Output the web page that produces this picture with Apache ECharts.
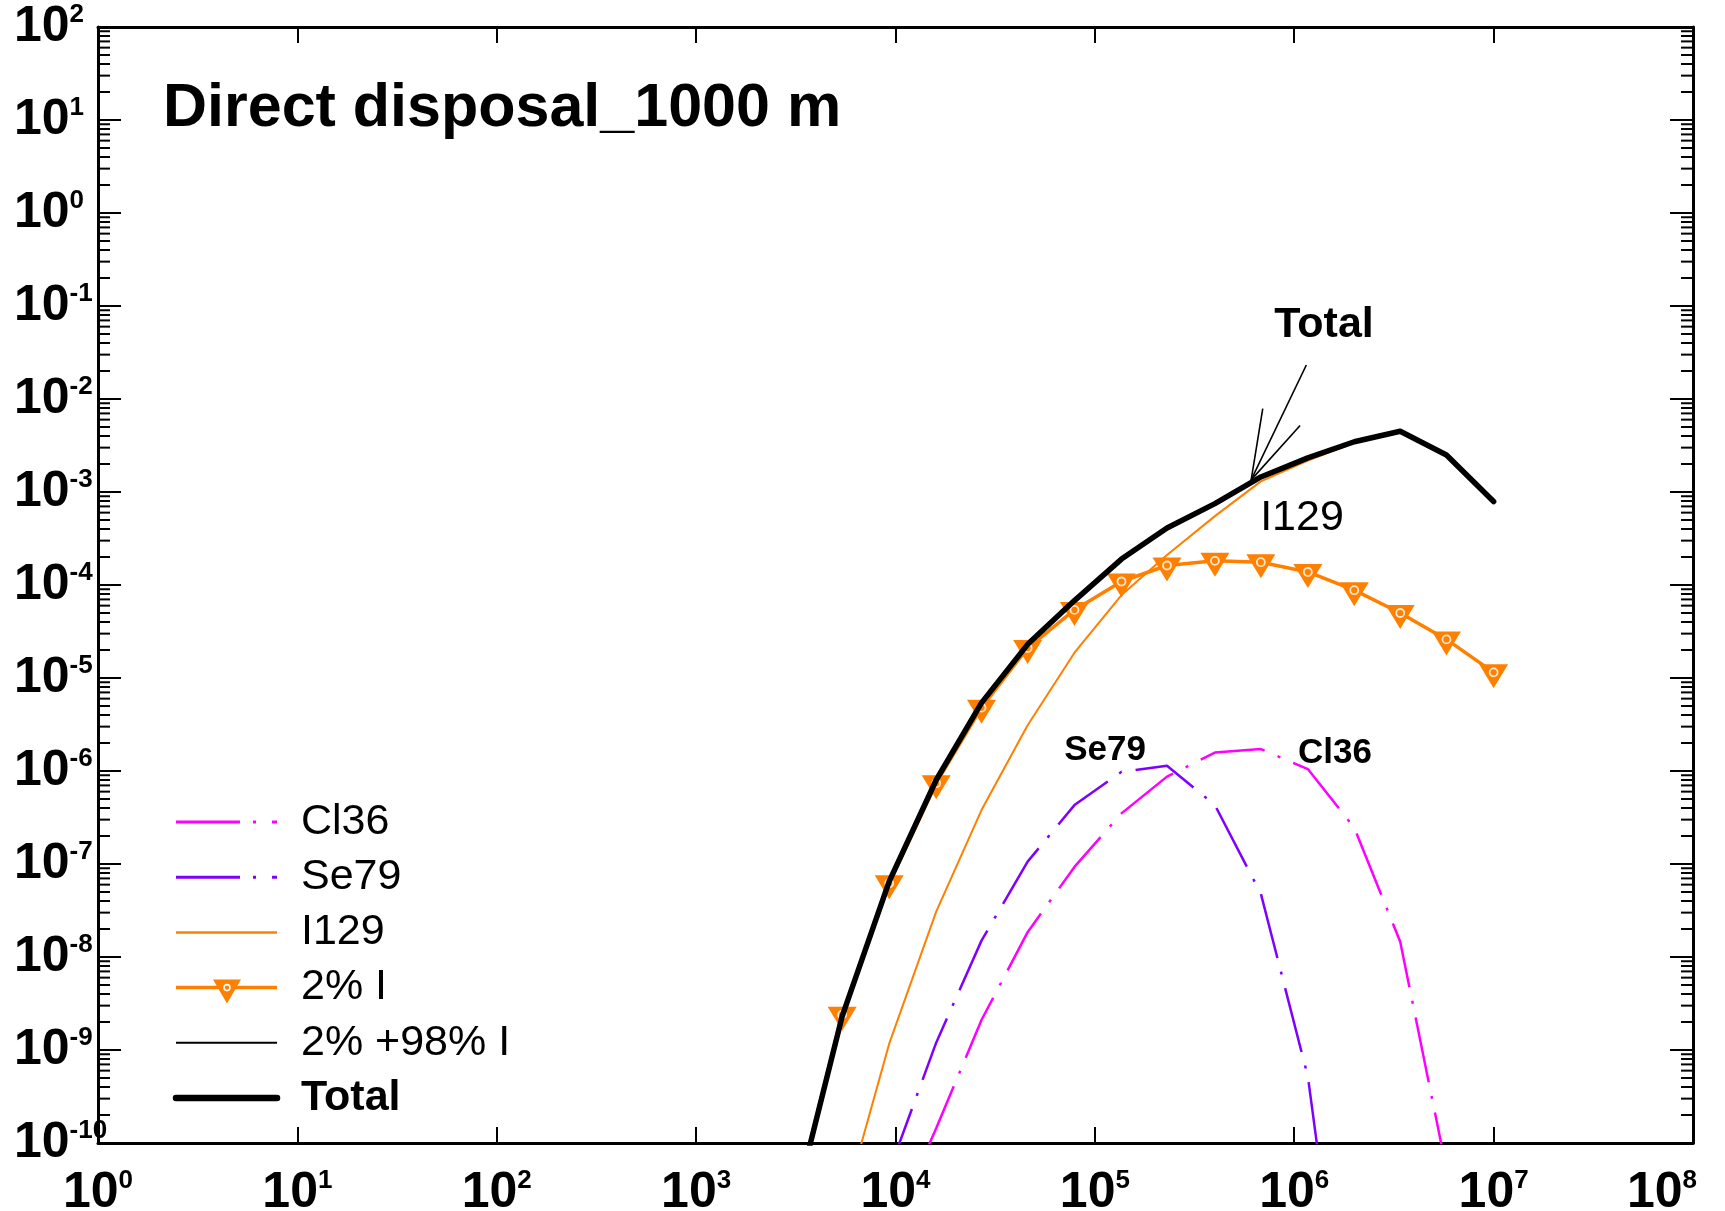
<!DOCTYPE html>
<html>
<head>
<meta charset="utf-8">
<script src="https://cdn.jsdelivr.net/npm/echarts@6/dist/echarts.min.js"></script>
<style>
  html, body { margin: 0; padding: 0; background: #fff; }
  #chart { width: 1725px; height: 1211px; }
</style>
</head>
<body>
<div id="chart"></div>
<script>
// time points (years) shared by all curves
const times = [3.2e3, 5.4e3, 9.3e3, 1.6e4, 2.7e4, 4.6e4, 7.9e4, 1.36e5, 2.3e5, 4.0e5, 6.8e5, 1.17e6, 2.0e6, 3.4e6, 5.8e6, 1.0e7];

// dose values, null = not drawn
const cl36 = [null, null, 1e-11, 1.44e-10, 2.1e-9, 1.85e-8, 9.3e-8, 3.5e-7, 8.7e-7, 1.58e-6, 1.72e-6, 1.05e-6, 2.45e-7, 1.46e-8, 5.2e-11, null];
const se79 = [null, null, 5e-11, 1.2e-9, 1.5e-8, 1.06e-7, 4.3e-7, 9.8e-7, 1.14e-6, 4.3e-7, 4.8e-8, 5.2e-10, 1e-13, null, null, null];
const i129 = [null, 1.8e-11, 1.17e-9, 3.07e-8, 3.8e-7, 3.1e-6, 1.87e-5, 7.8e-5, 2.1e-4, 5.5e-4, 1.3e-3, 2.18e-3, 3.37e-3, 4.45e-3, 2.47e-3, 7.8e-4];
const twoPctI = [2.5e-11, 2.4e-9, 6.2e-8, 7.4e-7, 4.8e-6, 2.1e-5, 5.4e-5, 1.09e-4, 1.62e-4, 1.82e-4, 1.76e-4, 1.38e-4, 8.8e-5, 5.0e-5, 2.6e-5, 1.15e-5];
// 2% + 98% I lies under the Total curve
const twoPlus98 = [2.6e-11, 2.3e-9, 6.5e-8, 8.0e-7, 5.4e-6, 2.3e-5, 6.8e-5, 1.9e-4, 4.1e-4, 7.5e-4, 1.45e-3, 2.33e-3, 3.47e-3, 4.5e-3, 2.5e-3, 7.9e-4];
const total = [2.6e-11, 2.3e-9, 6.5e-8, 8.0e-7, 5.4e-6, 2.3e-5, 6.8e-5, 1.9e-4, 4.1e-4, 7.5e-4, 1.45e-3, 2.33e-3, 3.47e-3, 4.5e-3, 2.5e-3, 7.9e-4];

// pointer lines of the "Total" label (data coords)
const totalPointer = [
  [[6.08e5, 1.35e-3], [1.15e6, 2.32e-2]],
  [[6.08e5, 1.35e-3], [6.95e5, 7.9e-3]],
  [[6.08e5, 1.35e-3], [1.07e6, 5.2e-3]]
];

// minor ticks of the y axis: 2..9 in each decade
const minorMult = [2, 3, 4, 5, 6, 7, 8, 9];
const decades = [1e-10, 1e-9, 1e-8, 1e-7, 1e-6, 1e-5, 1e-4, 1e-3, 1e-2, 1e-1, 1, 10];

const FONT = '"Liberation Sans", Arial, Helvetica, sans-serif';
const ORANGE = '#ff8000';
const MAGENTA = '#ff00ff';
const PURPLE = '#7f00ff';
const DASHDOT = [66, 14, 3, 14];

function pairs(vals) {
  return times.map((t, i) => [t, vals[i]]).filter(p => p[1] != null);
}

const minorTicks = [];
decades.forEach(d => minorMult.forEach(m => minorTicks.push([1, d * m])));

const supStyle = { fontFamily: FONT, fontWeight: 'bold', fontSize: 26, lineHeight: 26, color: '#000', verticalAlign: 'top' };
const powRich = {
  b: { fontFamily: FONT, fontWeight: 'bold', fontSize: 50, lineHeight: 50, color: '#000' },
  s: supStyle,
  // last x label is pushed left so it stays inside the picture
  e: Object.assign({}, supStyle, { padding: [0, 62, 0, 0] })
};
const powFormat = v => {
  const e = Math.round(Math.log10(v));
  return '{b|10}{' + (v >= 1e8 ? 'e' : 's') + '|' + e + '}';
};

const axisBase = {
  type: 'log',
  logBase: 10,
  interval: 1,
  splitLine: { show: false },
  axisLine: { show: true, onZero: false, lineStyle: { color: '#000', width: 3 } }
};

// legend drawn by hand (line sample + label)
const legendRows = [
  { name: 'Cl36', color: MAGENTA, width: 3, dash: [64, 13, 3, 16] },
  { name: 'Se79', color: PURPLE, width: 3, dash: [64, 13, 3, 16] },
  { name: 'I129', color: ORANGE, width: 2.5, dash: null },
  { name: '2% I', color: ORANGE, width: 3.5, dash: null, marker: true },
  { name: '2% +98% I', color: '#000', width: 2, dash: null },
  { name: 'Total', color: '#000', width: 6.5, dash: null, bold: true }
];
const legendGraphics = [];
legendRows.forEach((r, i) => {
  const y = 822 + 55.2 * i;
  legendGraphics.push({
    type: 'line', silent: true,
    shape: { x1: 176, y1: y, x2: 277, y2: y },
    style: { stroke: r.color, lineWidth: r.width, lineDash: r.dash, lineCap: r.bold ? 'round' : 'butt' }
  });
  if (r.marker) {
    legendGraphics.push({
      type: 'polygon', silent: true,
      shape: { points: [[213, y - 8], [241, y - 8], [227, y + 16]] },
      style: { fill: ORANGE }
    });
    legendGraphics.push({
      type: 'circle', silent: true,
      shape: { cx: 227, cy: y, r: 3 },
      style: { fill: ORANGE, stroke: '#fff', lineWidth: 1.6 }
    });
  }
  legendGraphics.push({
    type: 'text', silent: true,
    style: {
      x: 301, y: y, text: r.name, fill: '#000',
      font: (r.bold ? 'bold ' : '') + '43px ' + FONT,
      verticalAlign: 'middle', align: 'left'
    }
  });
});

const annotations = [
  { text: 'Direct disposal_1000 m', x: 163, y: 109, size: 61, bold: true, align: 'left' },
  { text: 'Total', x: 1324, y: 325, size: 43, bold: true, align: 'center' },
  { text: 'I129', x: 1302, y: 518, size: 43, bold: false, align: 'center' },
  { text: 'Se79', x: 1105, y: 750, size: 35, bold: true, align: 'center' },
  { text: 'Cl36', x: 1335, y: 753, size: 35, bold: true, align: 'center' }
].map(a => ({
  type: 'text', silent: true,
  style: {
    x: a.x, y: a.y, text: a.text, fill: '#000',
    font: (a.bold ? 'bold ' : '') + a.size + 'px ' + FONT,
    align: a.align, verticalAlign: 'middle'
  }
}));

const chart = echarts.init(document.getElementById('chart'), null, { renderer: 'canvas' });
chart.setOption({
  animation: false,
  backgroundColor: '#fff',
  grid: { left: 98, right: 32, top: 27, bottom: 68, containLabel: false, outerBoundsMode: 'none' },
  xAxis: [
    Object.assign({}, axisBase, {
      min: 1, max: 1e8, position: 'bottom',
      axisTick: { show: true, inside: true, length: 16, lineStyle: { color: '#000', width: 2 } },
      axisLabel: { margin: 25, showMinLabel: true, showMaxLabel: true, formatter: powFormat, rich: powRich }
    }),
    Object.assign({}, axisBase, {
      min: 1, max: 1e8, position: 'top',
      axisTick: { show: true, inside: true, length: 16, lineStyle: { color: '#000', width: 2 } },
      axisLabel: { show: false }
    })
  ],
  yAxis: [
    Object.assign({}, axisBase, {
      min: 1e-10, max: 100, position: 'left',
      axisTick: { show: true, inside: true, length: 23, lineStyle: { color: '#000', width: 2 } },
      axisLabel: { margin: 84, align: 'left', showMinLabel: true, showMaxLabel: true, formatter: powFormat, rich: powRich }
    }),
    Object.assign({}, axisBase, {
      min: 1e-10, max: 100, position: 'right',
      axisTick: { show: true, inside: true, length: 23, lineStyle: { color: '#000', width: 2 } },
      axisLabel: { show: false }
    })
  ],
  graphic: legendGraphics.concat(annotations),
  series: [
    {
      name: 'minor', type: 'custom', silent: true, z: 5,
      data: minorTicks,
      renderItem(params, api) {
        const v = api.value(1);
        const l = api.coord([1, v]);
        const r = api.coord([1e8, v]);
        return {
          type: 'group',
          children: [
            { type: 'line', shape: { x1: l[0], y1: l[1], x2: l[0] + 12, y2: l[1] }, style: { stroke: '#000', lineWidth: 2 } },
            { type: 'line', shape: { x1: r[0] - 12, y1: r[1], x2: r[0], y2: r[1] }, style: { stroke: '#000', lineWidth: 2 } }
          ]
        };
      }
    },
    {
      name: 'Cl36', type: 'line', data: pairs(cl36), symbol: 'none',
      lineStyle: { color: MAGENTA, width: 2.5, type: DASHDOT }
    },
    {
      name: 'Se79', type: 'line', data: pairs(se79), symbol: 'none',
      lineStyle: { color: PURPLE, width: 2.5, type: DASHDOT }
    },
    {
      name: 'I129', type: 'line', data: pairs(i129), symbol: 'none',
      lineStyle: { color: ORANGE, width: 2 }
    },
    {
      name: '2% I', type: 'line', data: pairs(twoPctI), z: 2,
      symbol: 'triangle', symbolSize: [29, 24], symbolRotate: 180, symbolOffset: [0, 4],
      showAllSymbol: true,
      itemStyle: { color: ORANGE },
      lineStyle: { color: ORANGE, width: 3.5 }
    },
    {
      name: '2% I dots', type: 'scatter', data: pairs(twoPctI), z: 3,
      symbol: 'circle', symbolSize: 8,
      itemStyle: { color: ORANGE, borderColor: '#fff', borderWidth: 1.8 }
    },
    {
      name: '2% +98% I', type: 'line', data: pairs(twoPlus98), symbol: 'none', z: 4,
      lineStyle: { color: '#000', width: 1.5 }
    },
    {
      name: 'Total', type: 'line', data: pairs(total), symbol: 'none', z: 4,
      lineStyle: { color: '#000', width: 5.5, join: 'round', cap: 'round' },
      markLine: {
        silent: true, symbol: ['none', 'none'],
        label: { show: false },
        lineStyle: { color: '#000', width: 1.6, type: 'solid' },
        data: totalPointer.map(p => [{ coord: p[0] }, { coord: p[1] }])
      }
    }
  ]
});
</script>
</body>
</html>
